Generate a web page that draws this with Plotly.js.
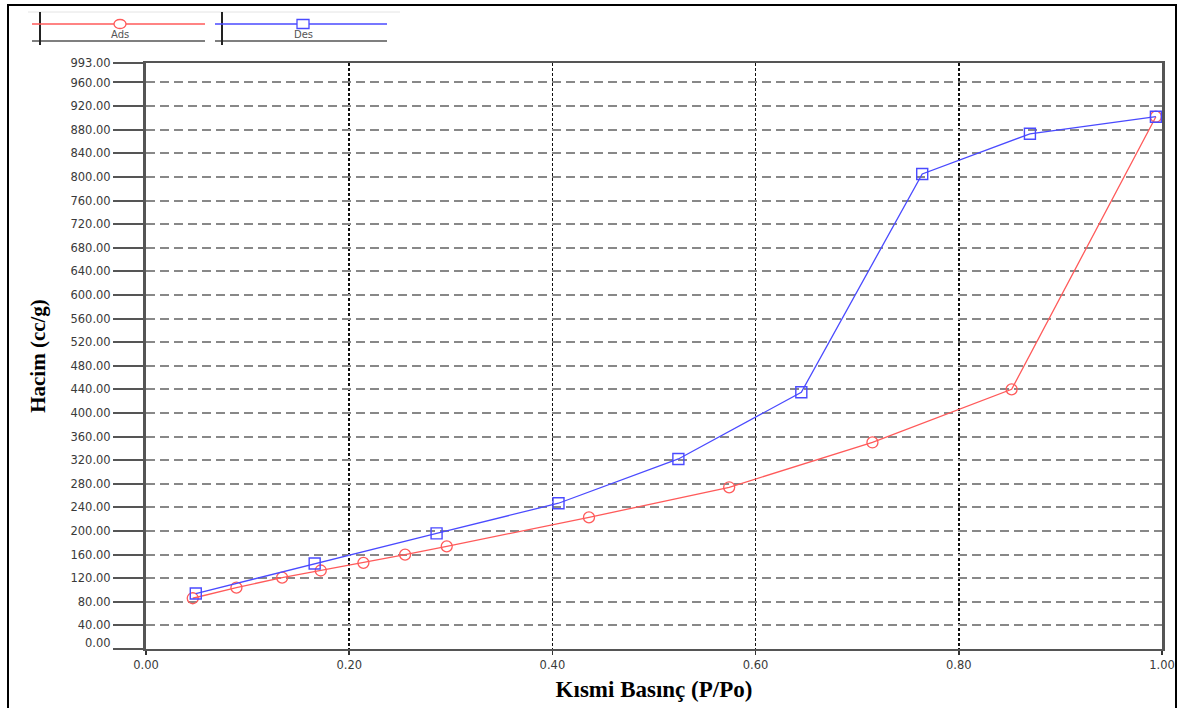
<!DOCTYPE html>
<html>
<head>
<meta charset="utf-8">
<script src="https://cdn.plot.ly/plotly-3.0.1.min.js"></script>
<style>
html,body{margin:0;padding:0;background:#fff;}
#chart{width:1177px;height:708px;}
</style>
</head>
<body>
<div id="chart"></div>
<script>
// ---- data ----
const adsX = [0.046, 0.089, 0.134, 0.172, 0.214, 0.255, 0.296, 0.436, 0.574, 0.715, 0.852, 0.994];
const adsY = [86, 104, 121, 133, 146, 160, 174, 223, 274, 350, 440, 902];
const desX = [0.049, 0.166, 0.286, 0.406, 0.524, 0.645, 0.764, 0.870, 0.994];
const desY = [94, 145, 196, 247, 322, 435, 805, 873, 902];
const yTickVals = [0,40,80,120,160,200,240,280,320,360,400,440,480,520,560,600,640,680,720,760,800,840,880,920,960,993];
const xTickVals = [0, 0.2, 0.4, 0.6, 0.8, 1.0];
const seriesNames = ['Ads', 'Des'];
const xTitle = 'Kısmi Basınç (P/Po)';
const yTitle = 'Hacim (cc/g)';

// ---- layout geometry ----
const W = 1177, H = 708;
const M = {l:146, r:15, t:63, b:59};
const PW = W - M.l - M.r, PH = H - M.t - M.b;
const xp = px => (px - M.l) / PW;
const yp = py => (H - M.b - py) / PH;

const red = '#ff5a5a', blue = '#4a4aff';
const tickFont = {family:'DejaVu Sans, Verdana, sans-serif', size: 11.5, color: '#3a3a3a'};
const titleFontFamily = 'Liberation Serif, Times New Roman, serif';

const traces = [
  {x: adsX, y: adsY, name: seriesNames[0], mode: 'lines+markers',
   line: {color: red, width: 1.3},
   marker: {symbol: 'circle-open', size: 11, color: red, line: {width: 1.3, color: red}}},
  {x: desX, y: desY, name: seriesNames[1], mode: 'lines+markers',
   line: {color: blue, width: 1.3},
   marker: {symbol: 'square-open', size: 11, color: blue, line: {width: 1.4, color: blue}}}
];

const shapes = [];
const annotations = [];
// outer frame
shapes.push({type:'rect', xref:'paper', yref:'paper', x0:xp(8), x1:xp(1176), y0:yp(712), y1:yp(5),
  line:{color:'#000', width:2}, layer:'below'});
// faint line above legend
shapes.push({type:'line', xref:'paper', yref:'paper', x0:xp(28), x1:xp(400), y0:yp(12), y1:yp(12),
  line:{color:'#e4e4e4', width:1}});
// custom legend
const legendDefs = [
  {name: seriesNames[0], color: red, x0: 32, x1: 205, vx: 40, mx: 120, shape: 'circle'},
  {name: seriesNames[1], color: blue, x0: 215, x1: 387, vx: 222, mx: 303, shape: 'rect'}
];
legendDefs.forEach(d => {
  shapes.push({type:'line', xref:'paper', yref:'paper', x0:xp(d.x0), x1:xp(d.x1), y0:yp(41), y1:yp(41),
    line:{color:'#555', width:1.5}});
  shapes.push({type:'line', xref:'paper', yref:'paper', x0:xp(d.vx), x1:xp(d.vx), y0:yp(12), y1:yp(45),
    line:{color:'#222', width:2}});
  shapes.push({type:'line', xref:'paper', yref:'paper', x0:xp(d.x0), x1:xp(d.x1), y0:yp(24), y1:yp(24),
    line:{color:d.color, width:1.3}});
  shapes.push({type:d.shape, xref:'paper', yref:'paper', x0:xp(d.mx-6), x1:xp(d.mx+6), y0:yp(28.5), y1:yp(19.5),
    line:{color:d.color, width:1.3}, fillcolor:'#fff'});
  annotations.push({xref:'paper', yref:'paper', x:xp(d.mx), y:yp(35), text:d.name, showarrow:false,
    xanchor:'center', yanchor:'middle', font:{family:'DejaVu Sans, Verdana, sans-serif', size:10, color:'#555'}});
});
// 0.00 y label drawn slightly raised as in the reference
annotations.push({xref:'paper', yref:'y', x:xp(113), y:0, yshift:6, text:(0).toFixed(2), showarrow:false,
  xanchor:'right', yanchor:'middle', font:tickFont});

const layout = {
  width: W, height: H,
  margin: {l:M.l, r:M.r, t:M.t, b:M.b, pad:0},
  paper_bgcolor: '#fff', plot_bgcolor: '#fff',
  showlegend: false,
  font: tickFont,
  xaxis: {
    range: [0, 1], tickvals: xTickVals, ticktext: xTickVals.map(v => v.toFixed(2)),
    showgrid: true, gridcolor: '#111', gridwidth: 1.5, griddash: '3px,2px',
    zeroline: false, showline: true, linecolor: '#555', linewidth: 2, mirror: true,
    ticks: 'outside', ticklen: 4, tickwidth: 1.5, tickcolor: '#333',
    tickfont: tickFont,
    title: {text: xTitle, standoff: 10, font: {family: titleFontFamily, size: 23, color:'#000', weight: 'bold'}}
  },
  yaxis: {
    range: [0, 993], tickvals: yTickVals,
    ticktext: yTickVals.map(v => v === 0 ? '' : v.toFixed(2)),
    showgrid: true, gridcolor: '#888', gridwidth: 2, griddash: '9px,5px',
    zeroline: false, showline: true, linecolor: '#555', linewidth: 3, mirror: true,
    ticks: 'outside', ticklen: 30, tickwidth: 2, tickcolor: '#555',
    tickfont: tickFont,
    title: {text: yTitle, standoff: 20, font: {family: titleFontFamily, size: 21, color:'#000', weight: 'bold'}}
  },
  shapes: shapes,
  annotations: annotations
};

Plotly.newPlot('chart', traces, layout, {displayModeBar: false, staticPlot: true});
</script>
</body>
</html>
